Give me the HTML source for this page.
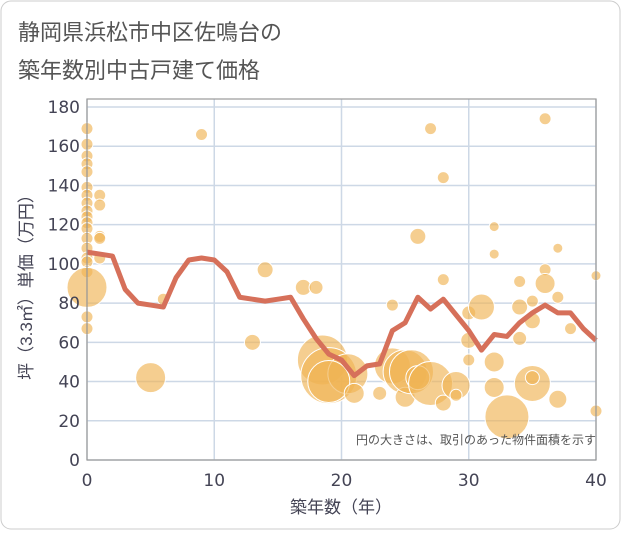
<!DOCTYPE html>
<html><head><meta charset="utf-8"><style>
body{margin:0;background:#fff;font-family:"Liberation Sans","Noto Sans CJK JP",sans-serif;}
#wrap{position:relative;width:621px;height:530px;}
.tick{font-family:"DejaVu Sans","Liberation Sans",sans-serif;}
</style></head><body>
<div id="wrap">
<svg id="chart" width="621" height="530">
<rect x="1" y="1" width="619" height="528" rx="10" fill="#fff" stroke="#ccc"/>
<text x="18" y="40" font-size="22" fill="#555">静岡県浜松市中区佐鳴台の</text>
<text x="18" y="78" font-size="22" fill="#555">築年数別中古戸建て価格</text>
<g id="grid"></g><g id="bubbles"></g><g id="line"></g><g id="axes"></g>
<text x="596" y="444" font-size="12" fill="#555" text-anchor="end">円の大きさは、取引のあった物件面積を示す</text>
<text x="341" y="513" font-size="17" fill="#445" text-anchor="middle">築年数（年）</text>
<text transform="translate(32,283) rotate(-90)" font-size="17" fill="#445" text-anchor="middle">坪（3.3㎡）単価（万円）</text>
</svg></div>
<script>
const lineYears=[0,1,2,3,4,5,6,7,8,9,10,11,12,13,14,15,16,17,18,19,20,21,22,23,24,25,26,27,28,29,30,31,32,33,34,35,36,37,38,39,40];
const lineValues=[106,105,104,87,80,79,78,93,102,103,102,96,83,82,81,82,83,72,62,54,51,43,48,49,66,70,83,77,82,74,66,56,64,63,70,75,79,75,75,67,61];
const bubbleX=[0,0,0,0,0,0,0,0,0,0,0,0,0,0,0,0,0,0,0,0,1,1,1,1,1,5,6,9,13,14,17,18,18.5,19,20.5,19,21,23,24,24,25,25,25.5,26,26,27,27,28,28,28,29,29,30,30,30,31,32,32,32,32,33,34,34,34,35,35,35,35,36,36,36,37,37,37,38,40,40];
const bubbleY=[169,161,155,151,147,139,135,131,127,124,121,118,113,108,103,101,96,88,73,67,135,130,114,113,103,42,82,166,60,97,88,88,51,43,44,40,34,34,79,48,45,32,45,42,114,39,169,144,92,29,38,33,75,61,51,78,50,37,105,119,22,91,78,62,39,42,81,71,174,97,90,108,83,31,67,25,94];
const bubbleR=[6,6,6,6,6,6,6,6,6,6,6,6,6,6,6,6,6,20,6,6,6,6,6,6,6,15,6,6,8,8,8,7,25,28,20,21,10,7,6,18,22,10,22,12,8,22,6,6,6,8,14,6,7,8,6,13,10,10,5,5,22,6,8,7,18,7,6,8,6,6,10,5,6,9,6,6,5];
const yTicks=[0,20,40,60,80,100,120,140,160,180];
const xTicks=[0,10,20,30,40];
const X0=87,X1=596,Y0=460,Y1=107;
const sx=v=>X0+(X1-X0)*v/40, sy=v=>Y0-(Y0-Y1)*v/180;
const NS="http://www.w3.org/2000/svg";
function mk(tag,attrs,parent){const e=document.createElementNS(NS,tag);for(const k in attrs)e.setAttribute(k,attrs[k]);document.getElementById(parent).appendChild(e);return e;}
yTicks.forEach(t=>{
 const l=mk('line',{x1:X0,x2:X1,y1:sy(t),y2:sy(t),stroke:'#cdd8e6','stroke-width':1.5},'grid');
 
 
 const tx=mk('text',{x:80,y:sy(t)+6,'font-size':17,fill:'#445','text-anchor':'end','class':'tick'},'axes');
 tx.textContent=t;
 
 
});
xTicks.forEach(t=>{
 const l=mk('line',{x1:sx(t),x2:sx(t),y1:Y1-8,y2:Y0,stroke:'#cdd8e6','stroke-width':1.5},'grid');
 
 
 const tx=mk('text',{x:sx(t),y:486,'font-size':17,fill:'#445','text-anchor':'middle','class':'tick'},'axes');
 tx.textContent=t;
 
 
});
const fr=mk('rect',{x:X0,y:Y1-8,width:X1-X0,height:Y0-Y1+8,fill:'none',stroke:'#999','stroke-width':1.2},'axes');


bubbleX.forEach((x,i)=>{
 const c=mk('circle',{cx:sx(x),cy:sy(bubbleY[i]),r:bubbleR[i],fill:'#f0b455','fill-opacity':0.65,stroke:'#fff','stroke-width':1},'bubbles');
 
 
});
const pl=mk('polyline',{points:lineYears.map((y,i)=>sx(y)+','+sy(lineValues[i])).join(' '),fill:'none',stroke:'#d6705a','stroke-width':5,'stroke-linejoin':'round'},'line');


</script>
</body></html>
